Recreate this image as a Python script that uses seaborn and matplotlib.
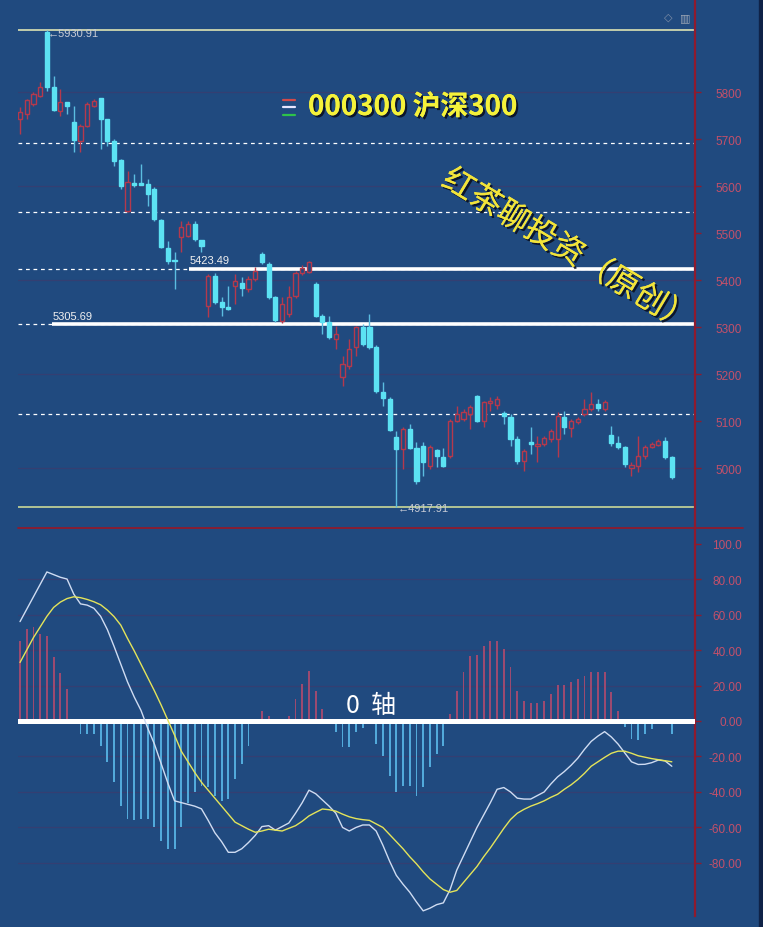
import numpy as np
import pandas as pd
import matplotlib
matplotlib.use("Agg")
import matplotlib.pyplot as plt
import seaborn as sns
from matplotlib import patheffects as pe
from matplotlib.lines import Line2D
from matplotlib.patches import Rectangle

# ---------------- data ----------------
opens = [5742.6, 5753, 5774.5, 5791.5, 5927, 5810.6, 5759.6, 5778.7, 5736, 5695.7,
         5727.7, 5770, 5787, 5742.6, 5695.7, 5655, 5546.8, 5606.4, 5606, 5604,
         5593.6, 5527.7, 5468, 5442.6, 5491.4, 5493.6, 5519, 5485, 5344.6, 5408.5,
         5353, 5342.5, 5387, 5393.6, 5381, 5402, 5455.3, 5434, 5363.8, 5312.7,
         5327.6, 5366, 5414.8, 5418, 5391.4, 5323.4, 5310.6, 5274.4, 5193.5, 5217,
         5257.4, 5300, 5300, 5257.4, 5161.6, 5146.7, 5065.8, 5040.3, 5082.9, 5042.4,
         5046.7, 5004, 5038.2, 5023.3, 5025.4, 5100, 5104.1, 5114.8, 5153, 5100,
         5138, 5134, 5117, 5108.5, 5061.6, 5014.8, 5055.2, 5046.7, 5051, 5061.6,
         5061.6, 5108.5, 5085, 5097.8, 5114.8, 5125.4, 5136, 5125.4, 5070, 5053,
         5044.5, 5000, 5004, 5025.4, 5044.5, 5048.8, 5057.3, 5023.3]
highs = [5768, 5785, 5800, 5821, 5930.91, 5834, 5806.4, 5778.7, 5770, 5732,
         5778.7, 5785, 5787, 5742.6, 5700, 5657.4, 5632, 5625.5, 5646.8, 5615,
         5598, 5530, 5483, 5459.6, 5525.5, 5525.5, 5525.5, 5485, 5412.7, 5415,
         5363.8, 5387, 5412.7, 5406, 5408.5, 5427.6, 5459.6, 5438.3, 5366, 5363.8,
         5387, 5419, 5431.9, 5441.3, 5395.7, 5327.6, 5323.4, 5302, 5238, 5274.4,
         5302, 5306.3, 5327.6, 5261.6, 5182.9, 5151, 5078.6, 5087.1, 5093.5, 5055.2,
         5055.2, 5048.8, 5040.3, 5042.4, 5104.1, 5131.8, 5125.4, 5134, 5155.2, 5142.5,
         5151, 5153, 5121, 5115, 5068, 5040.3, 5087, 5068, 5068, 5082.9,
         5119, 5121, 5104, 5108.4, 5146.7, 5161.6, 5146.7, 5144.6, 5089.2, 5068,
         5046.7, 5012.6, 5068, 5048.8, 5055.2, 5061.6, 5065.8, 5025.4]
lows = [5710.6, 5743, 5770, 5789, 5802, 5759.6, 5749, 5753, 5672, 5672,
        5725.5, 5768, 5678.7, 5685, 5642.5, 5593.6, 5544.6, 5598, 5602, 5557.4,
        5525.5, 5468, 5434, 5381, 5459.6, 5491.4, 5483, 5459.6, 5321.2, 5349,
        5323.4, 5336, 5349, 5366, 5374.4, 5397.8, 5434, 5359.5, 5310.6, 5308.5,
        5321, 5361.7, 5410.6, 5414, 5321.2, 5285, 5274.4, 5253, 5174.4, 5210.6,
        5238, 5259.5, 5253, 5159.5, 5131.8, 5078.6, 4917.91, 4997.7, 5040.3, 4965.8,
        4982.8, 4997.7, 5002, 5002, 5021, 5097.8, 5100, 5082.9, 5097.8, 5087,
        5121, 5125.4, 5093.5, 5046.7, 5008.4, 4993.5, 5029.7, 5012.6, 5046.7, 5055.2,
        5023.3, 5072.2, 5066, 5093.5, 5110.6, 5121, 5121, 5121, 5046.7, 5040.3,
        5002, 4982.8, 4991.4, 5019, 5042.4, 5046.7, 5019, 4976.4]
closes = [5757.4, 5783, 5796, 5810.6, 5810, 5761.7, 5778.7, 5770.2, 5698, 5727.7,
          5774.5, 5781, 5742.6, 5695.7, 5653, 5600, 5608.5, 5602, 5603, 5583,
          5530, 5470, 5440.4, 5440.4, 5512.7, 5519, 5487, 5472.3, 5408.5, 5353,
          5342.5, 5338, 5397.8, 5383, 5402, 5419, 5438.3, 5363.8, 5314.8, 5349,
          5363.8, 5414.8, 5425.5, 5439, 5323.4, 5310.6, 5278.7, 5285, 5221, 5253,
          5300, 5263.7, 5257.4, 5163.7, 5148.8, 5080.7, 5040.3, 5082.9, 5042.4, 4972.2,
          5012.6, 5044.5, 5025.4, 5004, 5099.9, 5114.8, 5119, 5129.7, 5100, 5140,
          5142.5, 5146.7, 5110.6, 5061.6, 5014.8, 5036.1, 5051, 5051, 5063.7, 5078.6,
          5110.6, 5087, 5100, 5104.1, 5125.4, 5136, 5127.5, 5140, 5053, 5044.5,
          5008.4, 5006.3, 5025.4, 5044.5, 5051, 5057.3, 5023.3, 4980.6]

dif = [56, 63, 70, 77, 84, 82.5, 81, 80, 71.5, 66,
       65.3, 63.5, 59, 51.5, 42, 32, 22, 13.5, 6, -4,
       -13, -24, -35, -45, -46, -47, -48, -49.5, -56, -63,
       -68, -74, -74, -72, -68.5, -64.5, -59.5, -59, -61.5, -59.5,
       -57.5, -52, -46, -39, -41, -44.5, -48, -52, -60, -62,
       -60, -58.6, -58.6, -62, -70, -79, -87, -92, -96.5, -102,
       -107, -105.5, -103.5, -102.5, -95, -84, -76, -68, -60, -53,
       -46, -38.5, -37.5, -40, -43.5, -44, -44, -42, -40, -35.5,
       -31.5, -28.5, -25, -21, -16, -11.5, -8.5, -6, -9, -13,
       -18, -23, -24.5, -24.4, -23.5, -22, -22.5, -25.5]
dea = [33, 40, 47, 53, 59, 64, 67, 69, 70, 69.5,
       68.5, 67.2, 65.5, 62.5, 58.8, 54, 46.5, 39.5, 32, 24.5,
       17, 9, 0.5, -8, -17, -23, -29, -34.5, -39, -43.5,
       -48, -52.5, -57, -59, -61, -62.7, -62, -61, -61.5, -62,
       -60.5, -59, -56.5, -53.5, -51.5, -49.6, -50, -50.8, -52.5, -54,
       -55, -55.6, -56, -58, -60, -64, -68, -72, -76.5, -80.5,
       -85, -89, -92, -95, -96.5, -95.5, -91, -86.5, -82, -76.5,
       -71.5, -66, -60.5, -55.5, -52, -49.8, -48, -46.6, -45, -43,
       -41.3, -38.5, -36, -33, -29.5, -25.5, -23, -20.5, -18.2, -17,
       -17, -18.2, -19.6, -20.4, -21.2, -21.8, -22.4, -23]
macd_hist = [45, 52, 53, 49, 48, 36, 27, 18, 0.5, -7.3,
             -7.3, -7.3, -14, -23, -34.5, -48, -55, -56, -55, -55,
             -60, -67.5, -72, -72, -60, -46, -40, -36.5, -37, -42,
             -45, -44, -32.7, -24, -14, -0.5, 5.8, 3, 1, 0.3,
             3, 12.4, 21, 28, 17, 6.8, -0.5, -6, -14.8, -14.8,
             -6, -4, -0.5, -13, -19.5, -31, -40, -36.5, -36.5, -42,
             -37, -26, -18.6, -14, 4, 17, 27.6, 36.8, 37, 42.4,
             45, 45, 40.6, 30.4, 17, 11.5, 10, 10, 11.5, 15,
             20.5, 20.5, 22, 23.7, 25.5, 27.8, 27.8, 27.8, 16.3, 5.8,
             -3.5, -10, -10.5, -7.3, -4.5, -1, -0.5, -7.3]

price_ticks = [5000, 5100, 5200, 5300, 5400, 5500, 5600, 5700, 5800]
price_grid = [5000, 5200, 5400, 5600, 5800]
macd_ticks = [100, 80, 60, 40, 20, 0, -20, -40, -60, -80]
macd_tick_labels = ["100.0", "80.00", "60.00", "40.00", "20.00", "0.00",
                    "-20.00", "-40.00", "-60.00", "-80.00"]
macd_grid = [80, 60, 40, 20, -20, -40, -60, -80]
high_price, low_price = 5930.91, 4917.91
fib_levels = [5692, 5545, 5423.49, 5305.69, 5114]
key_levels = [5423.49, 5305.69]
key_level_start = [25.2, 4.8]
title_text = "000300 沪深300"
watermark = "红茶聊投资（原创）"
zero_text = "0  轴"

# ---------------- style ----------------
sns.set_theme(style="dark")
plt.rcParams["font.family"] = ["Liberation Sans", "Noto Sans CJK SC", "DejaVu Sans"]

BG = "#204a7f"
AXRED = "#8e1b2e"
TICKC = "#c4506a"
GRIDC = "#343f72"
UPC = "#b5394c"
DNC = "#5ce2f3"
DNW = "#5bbde0"

W, H = 763, 928
fig = plt.figure(figsize=(W / 100, H / 100), dpi=100)
fig.patch.set_facecolor(BG)


def px_axes(l, t, r, b):
    return fig.add_axes([l / W, 1 - b / H, (r - l) / W, (b - t) / H])


ax1 = px_axes(18, 0, 695, 528)
ax2 = px_axes(18, 530, 695, 917)

df = pd.DataFrame({"open": opens, "high": highs, "low": lows, "close": closes,
                   "dif": dif, "dea": dea, "hist": macd_hist})
df["idx"] = np.arange(len(df))

for ax in (ax1, ax2):
    ax.set_facecolor(BG)
    for s in ("top", "left", "bottom"):
        ax.spines[s].set_visible(False)
    ax.spines["right"].set_color(AXRED)
    ax.spines["right"].set_linewidth(1.6)
    ax.set_xlim(-0.3, 100.45)
    ax.set_xticks([])
    ax.grid(False)
    ax.yaxis.tick_right()
    ax.tick_params(axis="y", direction="out", length=4, width=1, color=AXRED,
                   labelcolor=TICKC, labelsize=8.5, pad=30, right=True, left=False)

# ---------------- price panel ----------------
ax1.set_ylim(4874.5, 5997.9)
ax1.set_yticks(price_ticks)
ax1.set_yticklabels([str(t) for t in price_ticks])
for lab in ax1.get_yticklabels():
    lab.set_horizontalalignment("right")
for g in price_grid:
    ax1.axhline(g, color=GRIDC, lw=0.9, zorder=0)

for lv in fib_levels:
    ax1.axhline(lv, color="white", lw=0.9, ls=(0, (3, 3)), zorder=1)
ax1.axhline(high_price, color="#eef0b8", lw=1.1, zorder=1)
ax1.axhline(low_price, color="#d8e49a", lw=1.1, zorder=1)
for lv, st in zip(key_levels, key_level_start):
    ax1.hlines(lv, st, 100.45, color="white", lw=2.6, zorder=2)
    ax1.text(st, lv + 8, f"{lv:.2f}", color="#f0f0f0", fontsize=8,
             ha="left", va="bottom", zorder=5)

for _, r in df.iterrows():
    up = r["close"] >= r["open"]
    wc = UPC if up else DNW
    ax1.vlines(r["idx"], r["low"], r["high"], color=wc, lw=1.0, zorder=3)
    lo, hi = min(r["open"], r["close"]), max(r["open"], r["close"])
    ax1.bar(r["idx"], max(hi - lo, 0.8), bottom=lo, width=0.62,
            facecolor=BG if up else DNC, edgecolor=UPC if up else DNC,
            linewidth=1.0, zorder=4)

ax1.text(4.2, high_price - 6, "←5930.91", color="#c8ccd6", fontsize=8,
         ha="left", va="center", zorder=5)
ax1.text(56.2, low_price - 2, "←4917.91", color="#c8ccd6", fontsize=8,
         ha="left", va="center", zorder=5)

# ---------------- MACD panel ----------------
ax2.set_ylim(-109.9, 108.2)
ax2.set_yticks(macd_ticks)
ax2.set_yticklabels(macd_tick_labels)
for lab in ax2.get_yticklabels():
    lab.set_horizontalalignment("right")
for g in macd_grid:
    ax2.axhline(g, color=GRIDC, lw=0.9, zorder=0)

pos = df[df["hist"] >= 0]
neg = df[df["hist"] < 0]
ax2.bar(pos["idx"], pos["hist"], width=0.28, color="#9c4a70",
        edgecolor="none", linewidth=0, zorder=2)
ax2.bar(neg["idx"], neg["hist"], width=0.28, color="#52aadb",
        edgecolor="none", linewidth=0, zorder=2)
ax2.axhline(0, color="white", lw=3.6, zorder=3)
sns.lineplot(data=df, x="idx", y="dif", ax=ax2, color="#cfdcf2", lw=1.0, zorder=4)
sns.lineplot(data=df, x="idx", y="dea", ax=ax2, color="#e4e45a", lw=1.0, zorder=5)
ax2.set_xlabel("")
ax2.set_ylabel("")
ax2.set_xlim(-0.3, 100.45)

# ---------------- decorations ----------------
fig.add_artist(Line2D([18 / W, 743 / W], [1 - 529 / H, 1 - 529 / H],
                      color=AXRED, lw=1.3, transform=fig.transFigure))
fig.add_artist(Rectangle((759 / W, 0), 4 / W, 1, transform=fig.transFigure,
                         color="#0f2247", zorder=0))

for yy, cc in zip([101, 108, 116], ["#d24a4a", "#e6e6ff", "#2ec24a"]):
    fig.add_artist(Line2D([283 / W, 295 / W], [1 - yy / H, 1 - yy / H],
                          color=cc, lw=1.6, transform=fig.transFigure))

shadow = [pe.withSimplePatchShadow(offset=(1.5, -1.5), shadow_rgbFace="#0a1020", alpha=0.9),
          pe.Normal()]
fig.text(308 / W, 1 - 108 / H, title_text, color="#f5f23a", fontsize=20,
         fontweight="bold", family=["Noto Sans CJK SC", "DejaVu Sans"],
         ha="left", va="center", path_effects=shadow)

fig.text(568 / W, 1 - 252 / H, watermark, color="#f2e43a", fontsize=23,
         family=["Noto Sans CJK SC", "DejaVu Sans"], ha="center", va="center",
         rotation=-31, rotation_mode="anchor", path_effects=shadow)

fig.text(371 / W, 1 - 706 / H, zero_text, color="white", fontsize=18,
         family=["Noto Sans CJK SC", "DejaVu Sans"], ha="center", va="center")

fig.text(668 / W, 1 - 18 / H, "◇", color="#7f8fa8", fontsize=8,
         family=["DejaVu Sans"], ha="center", va="center")
fig.text(685 / W, 1 - 18 / H, "▥", color="#9aa4b4", fontsize=8,
         family=["DejaVu Sans"], ha="center", va="center")

fig.savefig("out.png", dpi=100, facecolor=BG)
